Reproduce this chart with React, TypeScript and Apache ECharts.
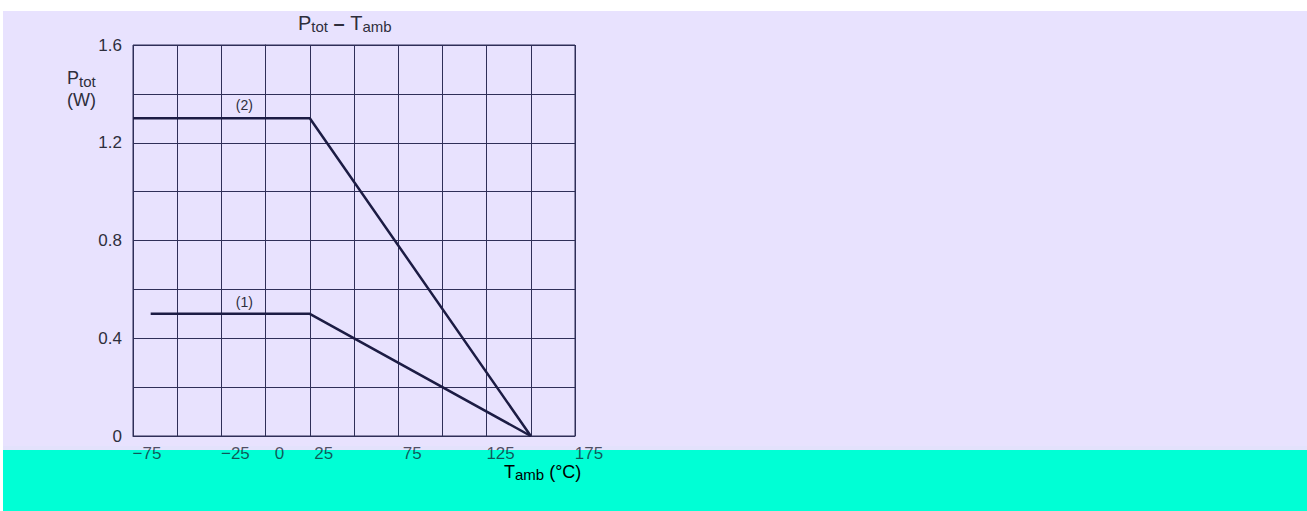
import React, { useEffect, useRef } from "react";
import * as echarts from "echarts";

// Data (derating curves)
const curve1Label = "(1)";
const curve1Tamb = [-65, 25, 150];
const curve1Ptot = [0.5, 0.5, 0];

const curve2Label = "(2)";
const curve2Tamb = [-75, 25, 150];
const curve2Ptot = [1.3, 1.3, 0];

const xTickValues = [-75, -25, 0, 25, 75, 125, 175];
const xTickLabels = ["\u221275", "\u221225", "0", "25", "75", "125", "175"];
const yTickValues = [0, 0.4, 0.8, 1.2, 1.6];
const yTickLabels = ["0", "0.4", "0.8", "1.2", "1.6"];

const FONT = "'Liberation Sans', Arial, sans-serif";
const INK = "#2e2e3c";
const LINE = "#1c1c44";
const GRIDC = "#2f2f58";
const TEALINK = "rgba(10,60,50,0.9)";
const XLABINK = "rgba(20,20,40,0.72)";

function subRich(color: string, main: number, sub: number, lh: number) {
  return {
    a: { fontSize: main, lineHeight: lh, verticalAlign: "middle", fontFamily: FONT, fontWeight: "normal", color },
    b: { fontSize: sub, lineHeight: sub, verticalAlign: "bottom", fontFamily: FONT, fontWeight: "normal", color },
    d: { fontSize: main, fontWeight: "bold", lineHeight: lh, verticalAlign: "middle", fontFamily: FONT, color },
  };
}

export default function App() {
  const ref = useRef<HTMLDivElement>(null);

  useEffect(() => {
    if (!ref.current) return;
    const chart = echarts.init(ref.current, undefined, { renderer: "svg" });

    const toPairs = (xs: number[], ys: number[]) => xs.map((x, i) => [x, ys[i]]);

    const option: any = {
      animation: false,
      backgroundColor: "transparent",
      graphic: [
        { type: "rect", z: -100, silent: true, shape: { x: 3, y: 11, width: 1304, height: 439 }, style: { fill: "#e8e2fe" } },
        { type: "rect", z: -100, silent: true, shape: { x: 3, y: 446, width: 1304, height: 4 }, style: { fill: "#e3e2fc" } },
        { type: "rect", z: -99, silent: true, shape: { x: 3, y: 450, width: 1304, height: 61 }, style: { fill: "#00ffd5" } },
        {
          type: "text",
          left: 67,
          top: 69,
          style: {
            text: "{a|P}{b|tot}\n{a|(W)}",
            rich: subRich(INK, 18, 15, 22),
            fontFamily: FONT,
            fill: INK,
          },
        },
        {
          type: "text",
          left: 504,
          top: 463,
          style: {
            text: "{a|T}{b|amb}{a| (\u00b0C)}",
            rich: subRich(TEALINK, 18, 15, 20),
            fontFamily: FONT,
          },
        },
      ],
      title: {
        text: "{a|P}{b|tot}{d| \u2013 }{a|T}{b|amb}",
        left: 298,
        top: 12,
        padding: 0,
        textStyle: { rich: subRich(INK, 20, 15, 22), fontFamily: FONT, fontWeight: "normal" },
      },
      grid: {
        left: 133,
        top: 45,
        width: 442,
        height: 391,
        show: true,
        borderColor: GRIDC,
        borderWidth: 1,
        backgroundColor: "transparent",
      },
      xAxis: {
        type: "value",
        min: -75,
        max: 175,
        interval: 25,
        axisLine: { show: true, lineStyle: { color: GRIDC, width: 1 } },
        axisTick: { show: false },
        splitLine: { show: true, lineStyle: { color: GRIDC, width: 1 } },
        axisLabel: {
          margin: 10,
          fontSize: 17,
          fontFamily: FONT,
          color: XLABINK,
          formatter: (v: number) => {
            const i = xTickValues.indexOf(Math.round(v));
            if (i < 0) return "";
            return `{r|${xTickLabels[i]}}`;
          },
          rich: {
            r: { fontSize: 17, lineHeight: 15, fontFamily: FONT, color: XLABINK, padding: [0, 0, 0, 28] },
          },
        },
      },
      yAxis: {
        type: "value",
        min: 0,
        max: 1.6,
        interval: 0.2,
        axisLine: { show: true, lineStyle: { color: GRIDC, width: 1 } },
        axisTick: { show: false },
        splitLine: { show: true, lineStyle: { color: GRIDC, width: 1 } },
        axisLabel: {
          margin: 11,
          fontSize: 17,
          fontFamily: FONT,
          color: INK,
          formatter: (v: number) => {
            const i = yTickValues.findIndex((t) => Math.abs(t - v) < 1e-6);
            return i < 0 ? "" : yTickLabels[i];
          },
        },
      },
      series: [
        {
          name: curve1Label,
          type: "line",
          data: toPairs(curve1Tamb, curve1Ptot),
          symbol: "none",
          lineStyle: { color: LINE, width: 2.5 },
          markPoint: {
            symbol: "circle",
            symbolSize: 0,
            data: [{ coord: [-12, 0.5], value: curve1Label }],
            label: {
              show: true,
              formatter: curve1Label,
              offset: [0, -12],
              fontSize: 14,
              fontFamily: FONT,
              color: INK,
            },
          },
        },
        {
          name: curve2Label,
          type: "line",
          data: toPairs(curve2Tamb, curve2Ptot),
          symbol: "none",
          lineStyle: { color: LINE, width: 2.5 },
          markPoint: {
            symbol: "circle",
            symbolSize: 0,
            data: [{ coord: [-12, 1.3], value: curve2Label }],
            label: {
              show: true,
              formatter: curve2Label,
              offset: [0, -13],
              fontSize: 14,
              fontFamily: FONT,
              color: INK,
            },
          },
        },
      ],
    };

    chart.setOption(option);
    return () => chart.dispose();
  }, []);

  return (
    <div
      ref={ref}
      style={{ position: "absolute", left: 0, top: 0, width: 1307, height: 511, background: "#ffffff" }}
    />
  );
}
